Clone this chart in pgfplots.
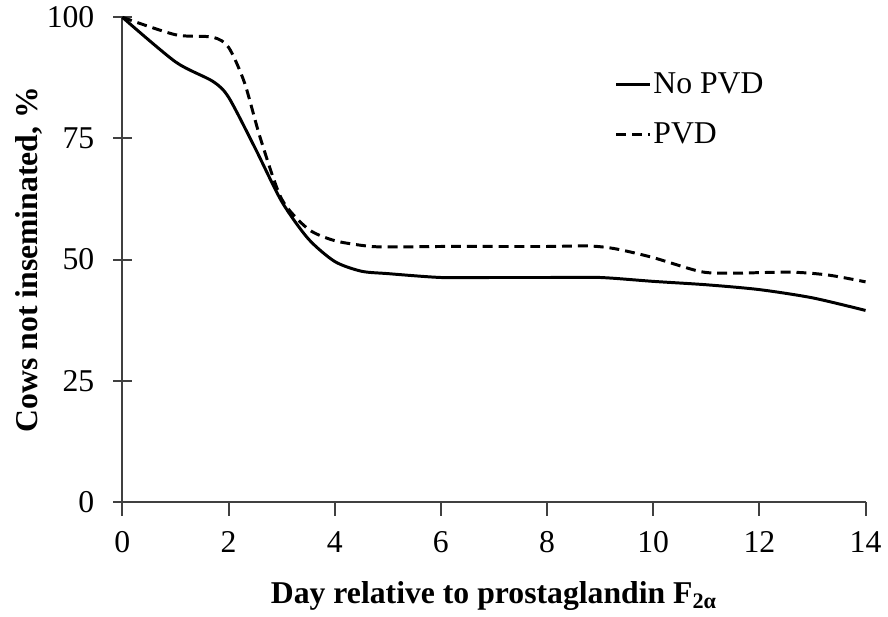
\documentclass[border=0pt]{standalone}
\usepackage{fontspec}
\setmainfont{Liberation Serif}
\usepackage{pgfplots}
\pgfplotsset{compat=1.18}

\begin{document}
\begin{tikzpicture}
  \begin{axis}[
      scale only axis,
      width=375pt, height=244.5pt,
      xmin=0, xmax=14, ymin=0, ymax=100,
      xtick={0,2,...,14},
      ytick={0,25,50,75,100},
      axis lines*=left,
      axis line style={line width=1pt, black!75},
      every tick/.style={line width=1pt, black!75},
      xtick style={/pgfplots/major tick length=7pt},
      ytick style={/pgfplots/major tick length=9.5pt},
      x tick label style={yshift=-7pt},
      y tick label style={xshift=-8.5pt},
      xtick align=outside,
      ytick align=center,
      /pgf/number format/assume math mode=true,
      ticklabel style={font=\fontsize{16}{18}\selectfont},
      xlabel={\textbf{Day relative to prostaglandin F\textsubscript{2α}}},
      ylabel={\textbf{Cows not inseminated, \%}},
      label style={font=\fontsize{16}{18}\selectfont},
      xlabel style={yshift=-7.5pt},
      ylabel style={inner ysep=8pt, yshift=-9.5pt},
      legend style={draw=none, fill=none, at={(0.662,0.81)}, anchor=west,
                    font=\fontsize{16}{18}\selectfont, row sep=9.5pt,
                    inner sep=0pt, nodes={inner xsep=1pt}},
      legend cell align=left,
      legend image code/.code={\draw[#1] (0pt,0pt) -- (17pt,0pt);},
      clip=false,
    ]

    % No PVD
    \addplot[black, line width=1.5pt, smooth, tension=0.45] coordinates {
      (0,100) (1,90.8) (1.7,86.8) (2,83.5) (2.5,73) (3,62) (3.5,54.3)
      (4,49.6) (4.5,47.6) (5,47.1) (6,46.3) (7,46.3) (8,46.3) (9,46.3)
      (10,45.5) (11,44.8) (12,43.8) (13,42.1) (14,39.5)
    };
    \addlegendentry{No PVD}

    % PVD
    \addplot[black, line width=1.5pt, dash pattern=on 5pt off 3pt, smooth, tension=0.45] coordinates {
      (0,100) (1,96.4) (1.7,95.9) (2,93.8) (2.3,86.5) (2.6,75) (3,62.5)
      (3.5,56.3) (4,53.9) (4.6,52.8) (5,52.6) (6,52.7) (7,52.7) (8,52.7)
      (8.8,52.8) (9.3,52.2) (10,50.4) (10.9,47.5) (11.5,47.2) (12.6,47.4)
      (13.3,46.8) (14,45.4)
    };
    \addlegendentry{PVD}

  \end{axis}
\end{tikzpicture}
\end{document}
